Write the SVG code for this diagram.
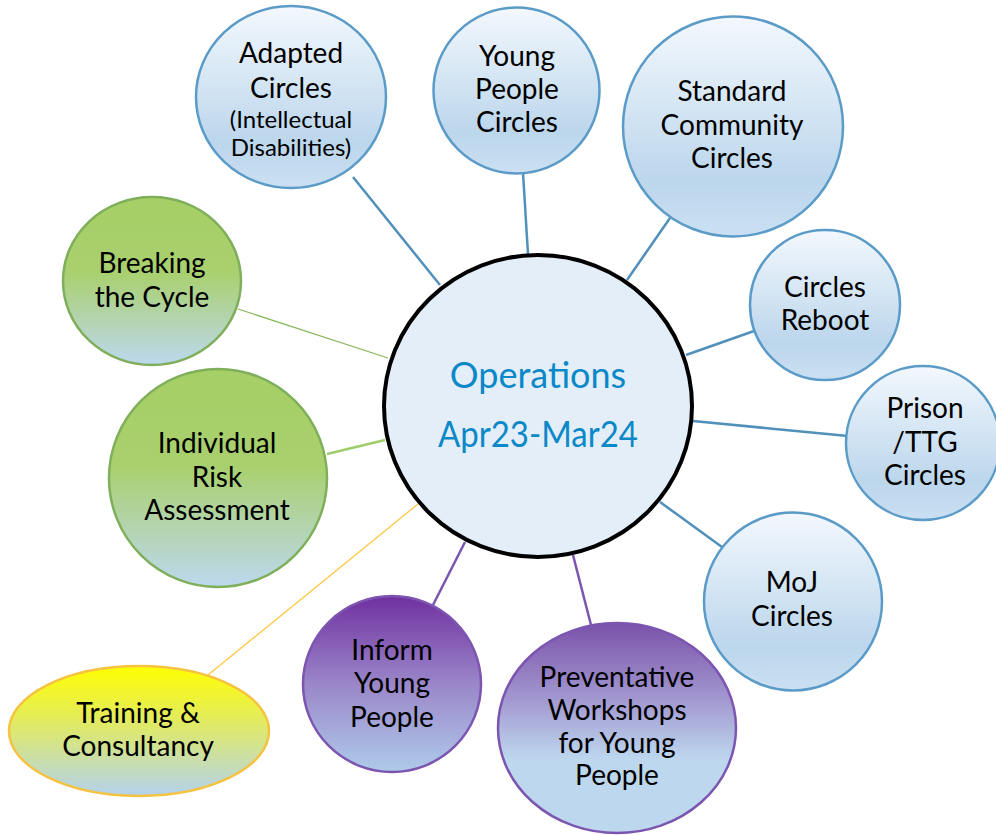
<svg xmlns="http://www.w3.org/2000/svg" width="996" height="835" viewBox="0 0 996 835">
  <defs>
    <linearGradient id="gBlue" x1="0" y1="0" x2="0" y2="1">
      <stop offset="0" stop-color="#F3F8FD"/>
      <stop offset="0.45" stop-color="#D2E4F3"/>
      <stop offset="0.75" stop-color="#BCD6EC"/>
      <stop offset="1" stop-color="#CBE0F2"/>
    </linearGradient>
    <linearGradient id="gGreen" x1="0" y1="0" x2="0" y2="1">
      <stop offset="0" stop-color="#A6CF66"/>
      <stop offset="0.45" stop-color="#A9D06E"/>
      <stop offset="1" stop-color="#BDD8EF"/>
    </linearGradient>
    <linearGradient id="gPurple" x1="0" y1="0" x2="0" y2="1">
      <stop offset="0" stop-color="#7030A0"/>
      <stop offset="0.5" stop-color="#9A86C9"/>
      <stop offset="1" stop-color="#AFCBEA"/>
    </linearGradient>
    <linearGradient id="gPurple2" x1="0" y1="0" x2="0" y2="1">
      <stop offset="0" stop-color="#7A52AA"/>
      <stop offset="0.35" stop-color="#A195CF"/>
      <stop offset="0.65" stop-color="#BDD7EE"/>
      <stop offset="1" stop-color="#BDD7EE"/>
    </linearGradient>
    <linearGradient id="gYellow" x1="0" y1="0" x2="0" y2="1">
      <stop offset="0" stop-color="#FFFF00"/>
      <stop offset="0.4" stop-color="#E4EC5A"/>
      <stop offset="1" stop-color="#B3D2EE"/>
    </linearGradient>
    <style>
      .lbl { font-family: "Lato", "Liberation Sans", sans-serif; font-size: 28px; fill: #000; text-anchor: middle; }
      .sm { font-size: 24px; }
      .ctr { font-family: "Lato", "Liberation Sans", sans-serif; font-size: 36px; fill: #0A88C8; text-anchor: middle; }
      .blue { fill: url(#gBlue); stroke: #5B9BC8; stroke-width: 2.5; }
      .green { fill: url(#gGreen); stroke: #7FAF5A; stroke-width: 2.5; }
      .purple { fill: url(#gPurple); stroke: #7C55B0; stroke-width: 2.5; }
      .purple2 { fill: url(#gPurple2); stroke: #7C55B0; stroke-width: 2.5; }
      .yellow { fill: url(#gYellow); stroke: #F5C242; stroke-width: 2.5; }
      .c-blue { stroke: #5090BA; stroke-width: 2.5; }
      .c-purple { stroke: #7B55B0; stroke-width: 2.5; }
      .c-yellow { stroke: #FFC845; stroke-width: 1.3; }
      .c-green { stroke: #88B95C; stroke-width: 1.3; }
      .c-green2 { stroke: #9ECD6A; stroke-width: 2.5; }
    </style>
  </defs>

  <rect width="996" height="835" fill="#FFFFFF"/>

  <!-- spokes from the hub to each programme -->
  <g id="connectors" fill="none">
    <line class="c-blue" x1="353" y1="177" x2="440" y2="285"/>
    <line class="c-blue" x1="523" y1="173" x2="528" y2="254"/>
    <line class="c-blue" x1="670" y1="218" x2="627" y2="280"/>
    <line class="c-blue" x1="754" y1="331" x2="686" y2="355"/>
    <line class="c-blue" x1="848" y1="436" x2="693" y2="421"/>
    <line class="c-blue" x1="722" y1="547" x2="660" y2="502"/>
    <line class="c-purple" x1="591" y1="625" x2="573" y2="555"/>
    <line class="c-purple" x1="433" y1="605" x2="465" y2="542"/>
    <line class="c-yellow" x1="418" y1="504" x2="208" y2="675"/>
    <line class="c-green2" x1="327" y1="454" x2="385" y2="440"/>
    <line class="c-green" x1="238" y1="309" x2="388" y2="358"/>
  </g>

  <g id="operations">
    <ellipse cx="538" cy="406" rx="154" ry="151" fill="#E3EEF8" stroke="#000" stroke-width="4"/>
    <text class="ctr" x="538" y="388">Operations</text>
    <text class="ctr" x="538" y="447" textLength="200" lengthAdjust="spacingAndGlyphs">Apr23-Mar24</text>
  </g>

  <g id="adapted-circles">
    <ellipse class="blue" cx="291" cy="97" rx="95" ry="91"/>
    <text class="lbl" x="291" y="63">Adapted</text>
    <text class="lbl" x="291" y="98">Circles</text>
    <text class="lbl sm" x="291" y="128">(Intellectual</text>
    <text class="lbl sm" x="291" y="156">Disabilities)</text>
  </g>

  <g id="young-people-circles">
    <circle class="blue" cx="516.5" cy="90.5" r="83"/>
    <text class="lbl" x="517" y="66">Young</text>
    <text class="lbl" x="517" y="99">People</text>
    <text class="lbl" x="517" y="132">Circles</text>
  </g>

  <g id="standard-community-circles">
    <circle class="blue" cx="733" cy="126.5" r="110"/>
    <text class="lbl" x="732" y="101">Standard</text>
    <text class="lbl" x="732" y="135">Community</text>
    <text class="lbl" x="732" y="168">Circles</text>
  </g>

  <g id="circles-reboot">
    <circle class="blue" cx="825" cy="305" r="75"/>
    <text class="lbl" x="825" y="297">Circles</text>
    <text class="lbl" x="825" y="330">Reboot</text>
  </g>

  <g id="prison-ttg-circles">
    <circle class="blue" cx="923" cy="443" r="77"/>
    <text class="lbl" x="925" y="418">Prison</text>
    <text class="lbl" x="925" y="452">/TTG</text>
    <text class="lbl" x="925" y="485">Circles</text>
  </g>

  <g id="moj-circles">
    <circle class="blue" cx="793" cy="601.5" r="89"/>
    <text class="lbl" x="792" y="592">MoJ</text>
    <text class="lbl" x="792" y="626">Circles</text>
  </g>

  <g id="preventative-workshops">
    <ellipse class="purple2" cx="617" cy="728" rx="119" ry="105"/>
    <text class="lbl" x="617" y="687">Preventative</text>
    <text class="lbl" x="617" y="720">Workshops</text>
    <text class="lbl" x="617" y="753">for Young</text>
    <text class="lbl" x="617" y="785">People</text>
  </g>

  <g id="inform-young-people">
    <ellipse class="purple" cx="392" cy="684" rx="89" ry="88"/>
    <text class="lbl" x="392" y="660">Inform</text>
    <text class="lbl" x="392" y="693">Young</text>
    <text class="lbl" x="392" y="727">People</text>
  </g>

  <g id="training-consultancy">
    <ellipse class="yellow" cx="139" cy="731" rx="130" ry="65"/>
    <text class="lbl" x="138" y="723">Training &amp;</text>
    <text class="lbl" x="138" y="756">Consultancy</text>
  </g>

  <g id="individual-risk-assessment">
    <circle class="green" cx="218" cy="478" r="109"/>
    <text class="lbl" x="217" y="453">Individual</text>
    <text class="lbl" x="217" y="487">Risk</text>
    <text class="lbl" x="217" y="520">Assessment</text>
  </g>

  <g id="breaking-the-cycle">
    <ellipse class="green" cx="152" cy="281" rx="89" ry="84"/>
    <text class="lbl" x="152" y="273">Breaking</text>
    <text class="lbl" x="152" y="307">the Cycle</text>
  </g>
</svg>
